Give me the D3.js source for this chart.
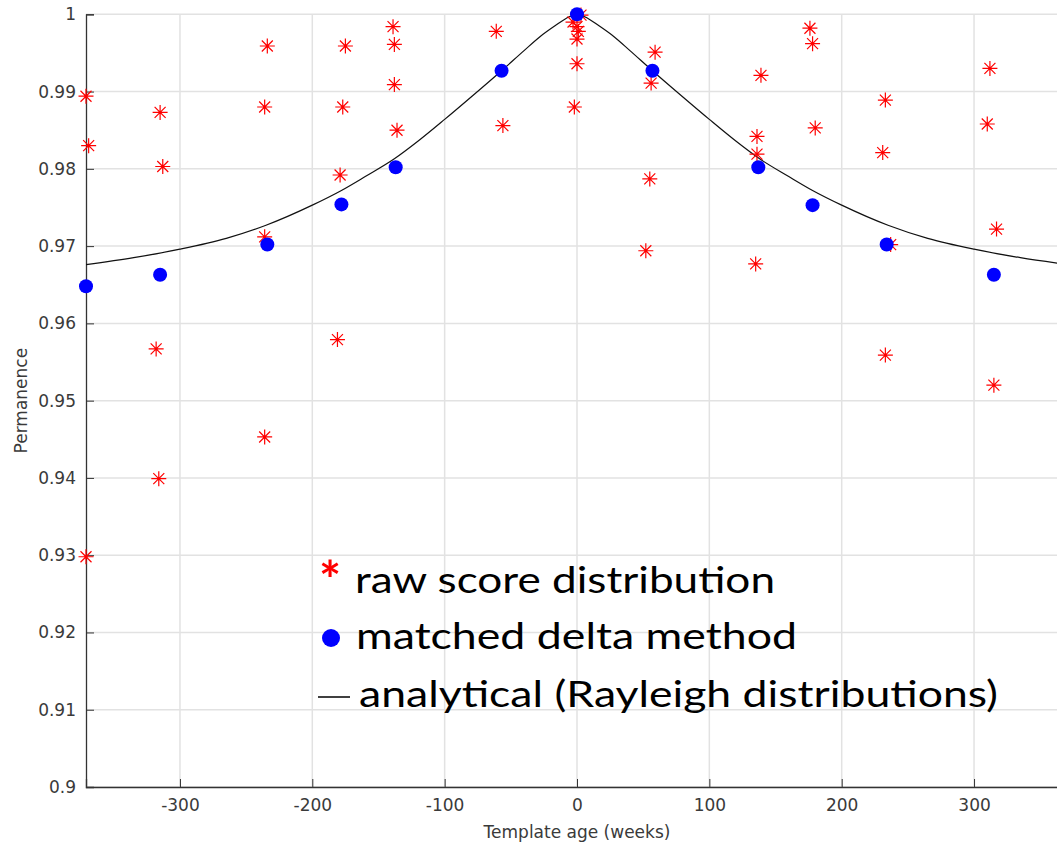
<!DOCTYPE html>
<html>
<head>
<meta charset="utf-8">
<script src="https://cdn.jsdelivr.net/npm/d3@7"></script>
<style>
    body { margin: 0; background: #fff; }
    #chart { width: 1057px; height: 845px; overflow: hidden; }
    .tick-label { font-family: "DejaVu Sans", sans-serif; font-size: 17px; fill: #3a3a3a; }
    .legend-text { font-family: Lato, "Open Sans", sans-serif; font-size: 37px; fill: #000; }
</style>
</head>
<body>
<div id="chart"></div>
<script>

// raw score distribution (red stars)
const rawWeeks = [-371, -369, -371,
    -315, -313, -318, -316,
    -234, -236, -236, -236,
    -175, -177, -179, -181,
    -139, -138, -138, -136,
    -61, -56,
    3, -3, 0, 1, 0, 0, -2,
    59, 56, 55, 52,
    139, 136, 136, 135,
    176, 178, 180,
    233, 231, 237, 233,
    312, 310, 317, 315];
const rawValues = [0.9894, 0.9830, 0.9298,
    0.9873, 0.9803, 0.9567, 0.9399,
    0.9959, 0.9880, 0.9712, 0.9453,
    0.9959, 0.9880, 0.9792, 0.9579,
    0.9984, 0.9961, 0.9909, 0.9850,
    0.9978, 0.9856,
    0.9999, 0.9990, 0.9984, 0.9978, 0.9968, 0.9936, 0.9880,
    0.9951, 0.9911, 0.9787, 0.9694,
    0.9921, 0.9842, 0.9819, 0.9677,
    0.9982, 0.9962, 0.9853,
    0.9889, 0.9821, 0.9702, 0.9559,
    0.9930, 0.9858, 0.9722, 0.9520];

// matched delta method (blue dots)
const deltaWeeks = [-371, -315, -234, -178, -137, -57, 0, 57, 137, 178, 234, 315, 371];
const deltaValues = [0.9648, 0.9663, 0.9702, 0.9754, 0.9802, 0.9927, 1.0, 0.9927, 0.9802, 0.9753, 0.9702, 0.9663, 0.9648];

// analytical curve (Rayleigh distributions)
const curveWeeks = [-371, -335, -300, -265, -235, -200, -178, -160, -138, -120, -100, -80, -57, -40, -28, -15, -8, 0,
    8, 15, 28, 40, 57, 80, 100, 120, 138, 160, 178, 200, 235, 265, 300, 335, 371];
const curveValues = [0.9676, 0.9685, 0.9696, 0.9710, 0.9727, 0.9753, 0.9772, 0.9790, 0.9813, 0.9836, 0.9864, 0.9893, 0.9927, 0.9953, 0.9971, 0.9987, 0.9995, 1.0,
    0.9995, 0.9987, 0.9971, 0.9953, 0.9927, 0.9893, 0.9864, 0.9836, 0.9813, 0.9790, 0.9772, 0.9753, 0.9727, 0.9710, 0.9696, 0.9685, 0.9676];

const xTicks = [-300, -200, -100, 0, 100, 200, 300];
const xTickLabels = ["-300", "-200", "-100", "0", "100", "200", "300"];
const yTicks = [0.9, 0.91, 0.92, 0.93, 0.94, 0.95, 0.96, 0.97, 0.98, 0.99, 1];
const yTickLabels = ["0.9", "0.91", "0.92", "0.93", "0.94", "0.95", "0.96", "0.97", "0.98", "0.99", "1"];

const legendLabels = ["raw score distribution", "matched delta method", "analytical (Rayleigh distributions)"];


class PermanenceVis {

    constructor(parentElement) {
        this.parentElement = parentElement;
        this.initVis();
    }

    initVis() {
        let vis = this;

        vis.width = 1057;
        vis.height = 845;

        vis.svg = d3.select("#" + vis.parentElement).append("svg")
            .attr("width", vis.width)
            .attr("height", vis.height);

        vis.svg.append("rect")
            .attr("width", vis.width)
            .attr("height", vis.height)
            .attr("fill", "#fff");

        // plot area runs past the right edge of the picture (cropped figure)
        vis.x = d3.scaleLinear().domain([-371, 371]).range([86, 1068]);
        vis.y = d3.scaleLinear().domain([0.9, 1.0]).range([787, 14.3]);

        // grid
        vis.svg.append("g").selectAll("line.vgrid")
            .data(xTicks)
            .enter().append("line")
            .attr("x1", d => vis.x(d)).attr("x2", d => vis.x(d))
            .attr("y1", vis.y(0.9)).attr("y2", vis.y(1.0))
            .attr("stroke", "#e2e2e2").attr("stroke-width", 1.5);

        vis.svg.append("g").selectAll("line.hgrid")
            .data(yTicks)
            .enter().append("line")
            .attr("x1", vis.x(-371)).attr("x2", vis.x(371))
            .attr("y1", d => vis.y(d)).attr("y2", d => vis.y(d))
            .attr("stroke", "#e2e2e2").attr("stroke-width", 1.5);

        // axes, ticks pointing inward like matlab
        const xAxis = d3.axisBottom(vis.x).tickValues(xTicks).tickSize(-8).tickPadding(12).tickFormat((d, i) => xTickLabels[i]);
        const yAxis = d3.axisLeft(vis.y).tickValues(yTicks).tickSize(-8).tickPadding(10).tickFormat((d, i) => yTickLabels[i]);

        const gx = vis.svg.append("g")
            .attr("transform", "translate(0," + vis.y(0.9) + ")")
            .call(xAxis);
        const gy = vis.svg.append("g")
            .attr("transform", "translate(" + vis.x(-371) + ",0)")
            .call(yAxis);

        [gx, gy].forEach(g => {
            g.select(".domain").attr("stroke", "#333").attr("stroke-width", 1.3);
            g.selectAll(".tick line").attr("stroke", "#333").attr("stroke-width", 1);
            g.selectAll(".tick text").attr("class", "tick-label").attr("font-family", null).attr("font-size", null).attr("fill", null);
        });
        gx.selectAll(".tick text").attr("dy", "0.71em");

        // axis titles
        vis.svg.append("text")
            .attr("class", "tick-label")
            .attr("x", vis.x(0))
            .attr("y", 838)
            .attr("text-anchor", "middle")
            .text("Template age (weeks)");

        vis.svg.append("text")
            .attr("class", "tick-label")
            .attr("transform", "translate(27," + vis.y(0.95) + ") rotate(-90)")
            .attr("text-anchor", "middle")
            .text("Permanence");

        // analytical curve
        const line = d3.line()
            .x(d => vis.x(d[0]))
            .y(d => vis.y(d[1]))
            .curve(d3.curveMonotoneX);

        vis.svg.append("path")
            .datum(curveWeeks.map((w, i) => [w, curveValues[i]]))
            .attr("d", line)
            .attr("fill", "none")
            .attr("stroke", "#111")
            .attr("stroke-width", 1.2);

        // red asterisks
        const star = "M-7.5,0H7.5M0,-7.5V7.5M-5.5,-5.5L5.5,5.5M-5.5,5.5L5.5,-5.5";
        vis.svg.append("g").selectAll("path.star")
            .data(rawWeeks.map((w, i) => [w, rawValues[i]]))
            .enter().append("path")
            .attr("d", star)
            .attr("transform", d => "translate(" + vis.x(d[0]) + "," + vis.y(d[1]) + ")")
            .attr("stroke", "#ff0000")
            .attr("stroke-width", 1.2)
            .attr("fill", "none");

        // blue dots
        vis.svg.append("g").selectAll("circle")
            .data(deltaWeeks.map((w, i) => [w, deltaValues[i]]))
            .enter().append("circle")
            .attr("cx", d => vis.x(d[0]))
            .attr("cy", d => vis.y(d[1]))
            .attr("r", 7)
            .attr("fill", "#0000ff");

        vis.drawLegend();
    }

    drawLegend() {
        let vis = this;
        const lg = vis.svg.append("g");

        // marker column
        lg.append("text")
            .attr("x", 330)
            .attr("y", 599)
            .attr("text-anchor", "middle")
            .style("font-family", "Lato, sans-serif")
            .style("font-weight", "bold")
            .style("font-size", "52px")
            .style("fill", "#ff0000")
            .text("*");

        lg.append("circle")
            .attr("cx", 331)
            .attr("cy", 638)
            .attr("r", 9)
            .attr("fill", "#0000ff");

        lg.append("line")
            .attr("x1", 318).attr("x2", 350)
            .attr("y1", 697).attr("y2", 697)
            .attr("stroke", "#000")
            .attr("stroke-width", 1.5);

        const rows = [{x: 355, y: 593, w: 420}, {x: 356, y: 649, w: 441}, {x: 359, y: 707, w: 639}];
        lg.selectAll("text.item")
            .data(legendLabels)
            .enter().append("text")
            .attr("class", "legend-text")
            .attr("x", (d, i) => rows[i].x)
            .attr("y", (d, i) => rows[i].y)
            .attr("textLength", (d, i) => rows[i].w)
            .attr("lengthAdjust", "spacingAndGlyphs")
            .text(d => d);
    }
}

new PermanenceVis("chart");
</script>
</body>
</html>
